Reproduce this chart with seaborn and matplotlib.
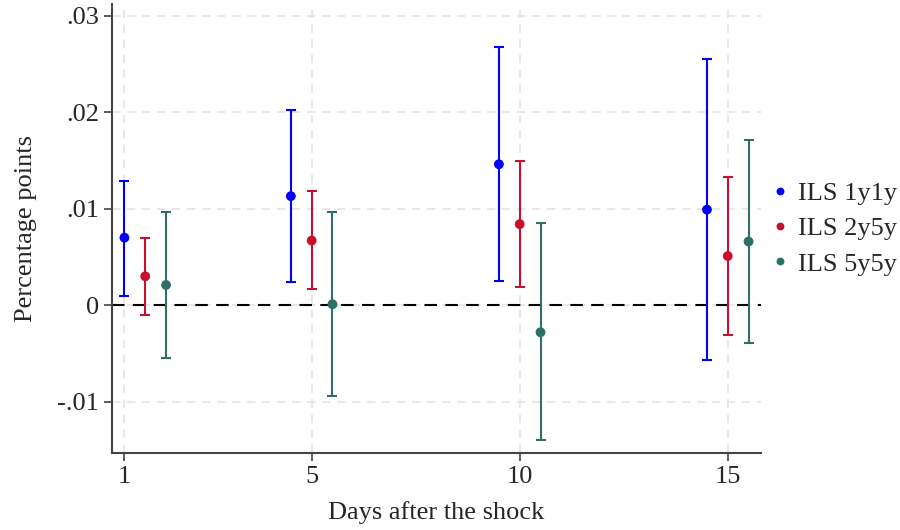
import pandas as pd
import matplotlib
matplotlib.use('Agg')
import matplotlib.pyplot as plt
import seaborn as sns

# data
days = [1, 5, 10, 15]
tick_pos = [0.5, 5, 10, 15]   # the "1" tick sits under the first blue point
series = ['ILS 1y1y', 'ILS 2y5y', 'ILS 5y5y']
offsets = [-0.5, 0.0, 0.5]

est_1y1y = [0.0070, 0.0113, 0.0146, 0.0099]
lo_1y1y = [0.0010, 0.0024, 0.0025, -0.0057]
hi_1y1y = [0.0129, 0.0202, 0.0267, 0.0255]

est_2y5y = [0.0030, 0.0067, 0.0084, 0.0051]
lo_2y5y = [-0.0010, 0.0017, 0.0019, -0.0031]
hi_2y5y = [0.0070, 0.0118, 0.0149, 0.0133]

est_5y5y = [0.0021, 0.0001, -0.0028, 0.0066]
lo_5y5y = [-0.0055, -0.0094, -0.0140, -0.0039]
hi_5y5y = [0.0097, 0.0097, 0.0085, 0.0171]

COLORS = ['#0000FF', '#C8102E', '#2F6F66']

rows = []
for s, off, est, lo, hi in zip(series, offsets,
                               [est_1y1y, est_2y5y, est_5y5y],
                               [lo_1y1y, lo_2y5y, lo_5y5y],
                               [hi_1y1y, hi_2y5y, hi_5y5y]):
    for d, e, l, h in zip(days, est, lo, hi):
        rows.append({'series': s, 'day': d, 'x': d + off, 'est': e, 'lo': l, 'hi': h})
df = pd.DataFrame(rows)

sns.set_style('white')
plt.rcParams['font.family'] = ['Liberation Serif', 'DejaVu Serif']

fig, ax = plt.subplots(figsize=(9, 5.3), dpi=100)
fig.subplots_adjust(left=0.1244, right=0.8456, top=0.9925, bottom=0.1453)

# grid
for t in tick_pos:
    ax.axvline(t, color='#E4E4E4', lw=1.2, ls=(0, (5, 4)), zorder=0)
for t in [-0.01, 0, 0.01, 0.02, 0.03]:
    ax.axhline(t, color='#E4E4E4', lw=1.2, ls=(0, (5, 4)), zorder=0)
ax.axhline(0, color='black', lw=1.5, ls=(0, (6, 4)), zorder=1)

# confidence intervals
for s, c in zip(series, COLORS):
    sub = df[df['series'] == s]
    ax.errorbar(sub['x'], sub['est'],
                yerr=[sub['est'] - sub['lo'], sub['hi'] - sub['est']],
                fmt='none', ecolor=c, elinewidth=1.5, capsize=3.5, capthick=1.5, zorder=2)

sns.scatterplot(data=df, x='x', y='est', hue='series', palette=COLORS,
                s=50, edgecolor='none', ax=ax, zorder=3)

ax.set_xlim(0.2, 15.8)
ax.set_ylim(-0.0153, 0.0312)
ax.set_xticks(tick_pos)
ax.set_xticklabels([str(d) for d in days])
ax.set_yticks([-0.01, 0, 0.01, 0.02, 0.03])
ax.set_yticklabels(['-.01', '0', '.01', '.02', '.03'])
ax.tick_params(axis='both', labelsize=19, length=6, width=1.2, color='#444444',
               direction='out', left=True, bottom=True)
ax.set_xlabel('Days after the shock', fontsize=19, labelpad=9)
ax.set_ylabel('Percentage points', fontsize=19, labelpad=14)

for side in ['top', 'right']:
    ax.spines[side].set_visible(False)
for side in ['left', 'bottom']:
    ax.spines[side].set_color('#444444')
    ax.spines[side].set_linewidth(1.5)

leg = ax.legend(loc='center left', bbox_to_anchor=(1.0, 0.5), frameon=False,
                fontsize=19, handlelength=0.6, handletextpad=0.4, labelspacing=0.45,
                markerscale=0.8, borderaxespad=0.2, borderpad=0.2)

fig.savefig('out.png', dpi=100)
